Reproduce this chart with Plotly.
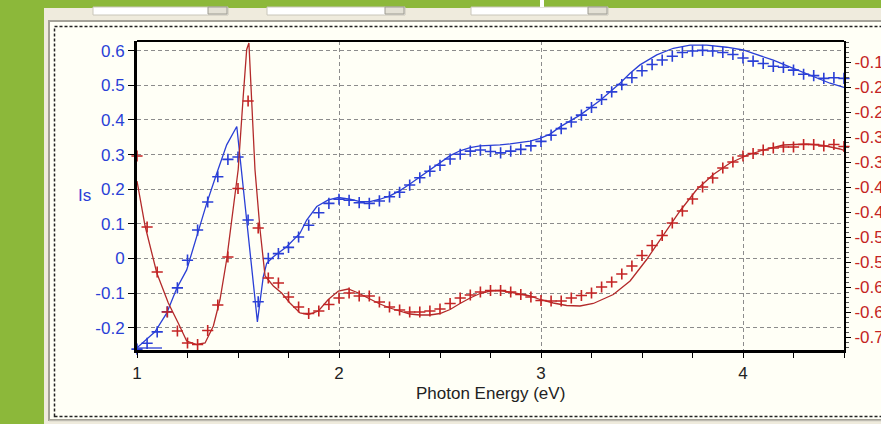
import plotly.graph_objects as go

# ---------------- data ----------------
energy = [1.00, 1.05, 1.10, 1.15, 1.20, 1.25, 1.30, 1.35, 1.40, 1.45, 1.50, 1.55, 1.60, 1.65, 1.70, 1.75, 1.80, 1.85, 1.90, 1.95,
          2.00, 2.05, 2.10, 2.15, 2.20, 2.25, 2.30, 2.35, 2.40, 2.45, 2.50, 2.55, 2.60, 2.65, 2.70, 2.75, 2.80, 2.85, 2.90, 2.95,
          3.00, 3.05, 3.10, 3.15, 3.20, 3.25, 3.30, 3.35, 3.40, 3.45, 3.50, 3.55, 3.60, 3.65, 3.70, 3.75, 3.80, 3.85, 3.90, 3.95,
          4.00, 4.05, 4.10, 4.15, 4.20, 4.25, 4.30, 4.35, 4.40, 4.45, 4.50]

is_meas = [-0.262, -0.245, -0.212, -0.154, -0.085, -0.005, 0.082, 0.163, 0.236, 0.286, 0.293, 0.111, -0.125, 0.000, 0.014, 0.032, 0.062, 0.096, 0.132, 0.159,
           0.171, 0.168, 0.161, 0.159, 0.166, 0.178, 0.191, 0.212, 0.233, 0.252, 0.269, 0.287, 0.301, 0.310, 0.313, 0.309, 0.305, 0.310, 0.315, 0.325,
           0.338, 0.356, 0.375, 0.394, 0.414, 0.436, 0.459, 0.481, 0.502, 0.522, 0.542, 0.560, 0.573, 0.584, 0.595, 0.599, 0.601, 0.599, 0.595, 0.589,
           0.579, 0.570, 0.563, 0.555, 0.552, 0.544, 0.532, 0.528, 0.520, 0.522, 0.520]

red_meas = [-0.338, -0.480, -0.570, -0.650, -0.688, -0.712, -0.715, -0.687, -0.636, -0.540, -0.403, -0.228, -0.482, -0.582, -0.592, -0.620, -0.640, -0.653, -0.648, -0.635,
            -0.622, -0.612, -0.618, -0.618, -0.630, -0.640, -0.646, -0.650, -0.650, -0.648, -0.644, -0.633, -0.622, -0.616, -0.610, -0.607, -0.607, -0.610, -0.615, -0.620,
            -0.627, -0.628, -0.628, -0.622, -0.617, -0.612, -0.600, -0.590, -0.574, -0.558, -0.537, -0.517, -0.497, -0.472, -0.448, -0.424, -0.400, -0.382, -0.362, -0.350,
            -0.338, -0.333, -0.326, -0.322, -0.320, -0.320, -0.315, -0.315, -0.318, -0.315, -0.319]

fit_is_x = [1.0, 1.089, 1.147, 1.197, 1.246, 1.296, 1.345, 1.395, 1.444, 1.494, 1.543, 1.576, 1.596, 1.625, 1.642, 1.675, 1.741, 1.807, 1.840, 1.890,
            1.947, 1.997, 2.054, 2.104, 2.153, 2.203, 2.252, 2.302, 2.351, 2.401, 2.450, 2.500, 2.550, 2.599, 2.649, 2.698, 2.748, 2.797, 2.847, 2.896,
            2.946, 2.995, 3.045, 3.094, 3.193, 3.292, 3.391, 3.441, 3.490, 3.573, 3.655, 3.738, 3.820, 3.919, 4.001, 4.051, 4.150, 4.249, 4.348, 4.431, 4.500]
fit_is_y = [-0.258, -0.212, -0.158, -0.086, -0.033, 0.062, 0.159, 0.246, 0.328, 0.381, 0.120, -0.072, -0.183, -0.053, -0.014, 0.005, 0.034, 0.073, 0.111, 0.150,
            0.169, 0.176, 0.171, 0.164, 0.164, 0.171, 0.181, 0.196, 0.215, 0.236, 0.257, 0.278, 0.297, 0.311, 0.320, 0.325, 0.326, 0.328, 0.331, 0.334,
            0.339, 0.347, 0.359, 0.380, 0.414, 0.456, 0.506, 0.535, 0.559, 0.588, 0.607, 0.616, 0.616, 0.610, 0.602, 0.592, 0.573, 0.549, 0.525, 0.506, 0.494]

fit_red_x = [1.0, 1.040, 1.098, 1.155, 1.204, 1.246, 1.296, 1.337, 1.378, 1.411, 1.444, 1.477, 1.501, 1.526, 1.543, 1.554, 1.568, 1.584, 1.609, 1.634,
             1.675, 1.716, 1.757, 1.807, 1.848, 1.898, 1.947, 1.997, 2.046, 2.096, 2.153, 2.203, 2.252, 2.302, 2.351, 2.401, 2.450, 2.500, 2.550, 2.599,
             2.649, 2.698, 2.748, 2.797, 2.847, 2.896, 2.946, 2.995, 3.061, 3.127, 3.193, 3.259, 3.358, 3.441, 3.523, 3.605, 3.688, 3.771, 3.853, 3.936,
             4.018, 4.100, 4.200, 4.315, 4.398, 4.480, 4.500]
fit_red_y = [-0.388, -0.478, -0.572, -0.632, -0.672, -0.708, -0.715, -0.712, -0.678, -0.625, -0.545, -0.445, -0.365, -0.218, -0.125, -0.112, -0.218, -0.365, -0.485, -0.578,
             -0.598, -0.612, -0.632, -0.652, -0.655, -0.648, -0.625, -0.608, -0.604, -0.612, -0.624, -0.634, -0.642, -0.648, -0.654, -0.656, -0.656, -0.653, -0.645, -0.633,
             -0.622, -0.613, -0.608, -0.607, -0.610, -0.614, -0.618, -0.625, -0.632, -0.637, -0.638, -0.633, -0.615, -0.588, -0.545, -0.498, -0.448, -0.405, -0.375, -0.352,
             -0.337, -0.326, -0.316, -0.314, -0.317, -0.324, -0.327]

y_tickvals = [0.6, 0.5, 0.4, 0.3, 0.2, 0.1, 0.0, -0.1, -0.2]
y_ticktext = ["0.6", "0.5", "0.4", "0.3", "0.2", "0.1", "0", "-0.1", "-0.2"]
y2_tickvals = [-0.15, -0.2, -0.25, -0.3, -0.35, -0.4, -0.45, -0.5, -0.55, -0.6, -0.65, -0.7]
y2_ticktext = ["-0.15", "-0.2", "-0.25", "-0.3", "-0.35", "-0.4", "-0.45", "-0.5", "-0.55", "-0.6", "-0.65", "-0.7"]
x_tickvals = [1, 2, 3, 4]
x_ticktext = ["1", "2", "3", "4"]

# ---------------- style ----------------
W, H = 881, 424
ML, MR, MT, MB = 137, 37, 41, 74
PW = W - ML - MR
PH = H - MT - MB

BLUE = "#2a3fd6"
RED = "#c42424"
REDLINE = "#b32a2a"
GREEN = "#8cb83a"
BEIGE = "#efebdd"
CREAM = "#fffff6"
FONT = "Liberation Sans, Arial, sans-serif"
FS = 17


def px(x):
    return (x - ML) / PW


def py(y):
    return (H - MB - y) / PH


fig = go.Figure()
fig.add_trace(go.Scatter(x=fit_is_x, y=fit_is_y, mode="lines", line=dict(color=BLUE, width=1.3), yaxis="y"))
fig.add_trace(go.Scatter(x=fit_red_x, y=fit_red_y, mode="lines", line=dict(color=REDLINE, width=1.3), yaxis="y2"))
fig.add_trace(go.Scatter(x=energy, y=is_meas, mode="markers", yaxis="y", cliponaxis=False,
                         marker=dict(symbol="cross-thin", size=8, line=dict(color=BLUE, width=1.6))))
fig.add_trace(go.Scatter(x=energy, y=red_meas, mode="markers", yaxis="y2", cliponaxis=False,
                         marker=dict(symbol="cross-thin", size=8, line=dict(color=RED, width=1.6))))

shapes = []
# beige window body
shapes.append(dict(type="rect", xref="paper", yref="paper", x0=px(44), x1=px(W + 5), y0=py(H + 5), y1=py(8),
                   fillcolor=BEIGE, line=dict(width=0), layer="below"))
# toolbar combo boxes
for a, b in [(93, 228), (267, 405), (471, 608)]:
    shapes.append(dict(type="rect", xref="paper", yref="paper", x0=px(a), x1=px(b), y0=py(15), y1=py(7),
                       fillcolor="#ffffff", line=dict(color="#c9c6ba", width=1), layer="below"))
    shapes.append(dict(type="rect", xref="paper", yref="paper", x0=px(b - 20), x1=px(b - 1), y0=py(14), y1=py(7),
                       fillcolor="#e4e1d6", line=dict(color="#9c9a90", width=1), layer="below"))
# small white mark in the green band
shapes.append(dict(type="rect", xref="paper", yref="paper", x0=px(540), x1=px(544), y0=py(7), y1=py(0),
                   fillcolor="#ffffff", line=dict(width=0), layer="below"))
# panel
shapes.append(dict(type="rect", xref="paper", yref="paper", x0=px(49), x1=px(W + 10), y0=py(420), y1=py(21),
                   fillcolor=CREAM, line=dict(color="#a4a298", width=2), layer="below"))
# dotted inner border
shapes.append(dict(type="rect", xref="paper", yref="paper", x0=px(54.5), x1=px(W + 10), y0=py(416.5), y1=py(26.5),
                   line=dict(color="#222222", width=1.5, dash="3px,2px"), layer="below"))
# bottom strip line
shapes.append(dict(type="line", xref="paper", yref="paper", x0=px(49), x1=px(W), y0=py(421), y1=py(421),
                   line=dict(color="#d8d5ca", width=1), layer="below"))
# top frame of plot
shapes.append(dict(type="line", xref="paper", yref="paper", x0=0, x1=1, y0=1, y1=1,
                   line=dict(color="black", width=2), layer="above"))
# small blue stroke in lower-left corner
shapes.append(dict(type="line", xref="paper", yref="paper", x0=px(138), x1=px(162), y0=py(348), y1=py(348),
                   line=dict(color=BLUE, width=1.3), layer="above"))

annotations = [
    dict(text="Is", xref="paper", yref="paper", x=px(84), y=py(196), showarrow=False,
         xanchor="center", yanchor="middle", font=dict(family=FONT, size=FS, color=BLUE)),
    dict(text="Photon Energy (eV)", xref="paper", yref="paper", x=px(490), y=py(393), showarrow=False,
         xanchor="center", yanchor="middle", font=dict(family=FONT, size=FS, color="#222222")),
]

fig.update_layout(
    width=W, height=H,
    margin=dict(l=ML, r=MR, t=MT, b=MB, pad=0, autoexpand=False),
    paper_bgcolor=GREEN, plot_bgcolor=CREAM,
    showlegend=False,
    font=dict(family=FONT, size=FS, color="#222222"),
    shapes=shapes, annotations=annotations,
    xaxis=dict(range=[1, 4.5], tickmode="array", tickvals=x_tickvals, ticktext=x_ticktext,
               ticks="outside", ticklen=5, tickwidth=1, tickcolor="black",
               showline=True, linecolor="black", linewidth=3, mirror=False,
               showgrid=True, gridcolor="#8c8c8c", gridwidth=1, griddash="4px,3px", zeroline=False,
               tickfont=dict(family=FONT, size=FS, color="#222222"), ticklabelstandoff=1,
               minor=dict(tickmode="linear", tick0=1, dtick=0.25, ticks="outside", ticklen=5,
                          tickcolor="black", tickwidth=1, showgrid=False)),
    yaxis=dict(range=[-0.2644, 0.628], tickmode="array", tickvals=y_tickvals, ticktext=y_ticktext,
               ticks="outside", ticklen=6, tickwidth=1, tickcolor="black",
               showline=True, linecolor="black", linewidth=3, mirror=False,
               showgrid=True, gridcolor="#8c8c8c", gridwidth=1, griddash="4px,3px", zeroline=False,
               tickfont=dict(family=FONT, size=FS, color=BLUE)),
    yaxis2=dict(range=[-0.726, -0.108], overlaying="y", side="right", tickmode="array",
                tickvals=y2_tickvals, ticktext=y2_ticktext,
                ticks="outside", ticklen=5, tickwidth=1, tickcolor="black",
                showline=True, linecolor="black", linewidth=2, showgrid=False, zeroline=False,
                tickfont=dict(family=FONT, size=FS, color=RED),
                minor=dict(tickmode="linear", tick0=-0.7, dtick=0.01, ticks="outside", ticklen=3,
                           tickcolor="#555555", tickwidth=1, showgrid=False)),
)

fig.write_html("out.html")
